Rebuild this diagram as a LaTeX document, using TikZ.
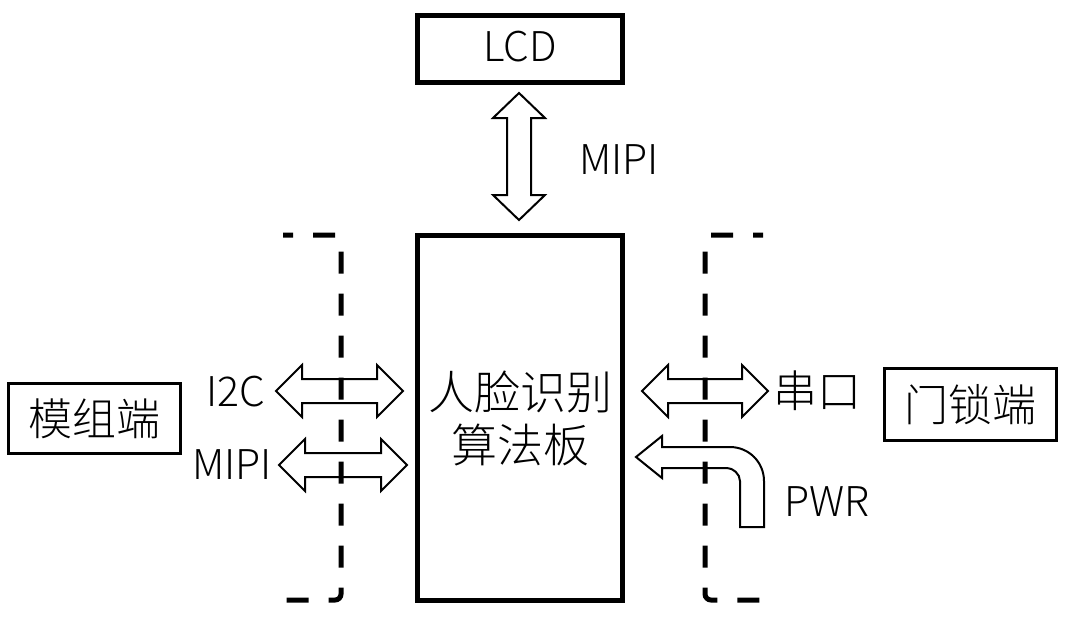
\documentclass[tikz,border=0pt]{standalone}
\usepackage{fontspec}
\setmainfont{Noto Sans CJK SC}[UprightFont={* Light}]
\usetikzlibrary{calc}
\tikzset{
  thickbox/.style={draw=black, line width=5pt, fill=white, inner sep=0pt},
  thinbox/.style={draw=black, line width=3pt, fill=white, inner sep=0pt},
  barrow/.style={draw=black, line width=2pt, fill=white, line join=miter},
  bracket/.style={draw=black, line width=5pt, dash pattern=on 22pt off 20pt, dash phase=12pt, rounded corners=6pt},
  lbl/.style={inner sep=0pt, font=\fontsize{41}{48}\selectfont},
  cjklbl/.style={inner sep=0pt, font=\fontsize{44}{52}\selectfont},
}
\newcommand\hdblarrow[3]{% y, xleft, xright
  \draw[barrow] (#2,#1) -- (#2+26,#1-26) -- (#2+26,#1-12) -- (#3-26,#1-12) -- (#3-26,#1-26)
    -- (#3,#1) -- (#3-26,#1+26) -- (#3-26,#1+12) -- (#2+26,#1+12) -- (#2+26,#1+26) -- cycle;}
\begin{document}
\begin{tikzpicture}[x=1pt,y=-1pt]
\useasboundingbox (0,0) rectangle (1072,633);
% boxes
\node[thickbox, minimum width=205pt, minimum height=67pt] (lcd) at (520,49) {};
\node[lbl] (lcdt) at (520,47) {LCD};
\node[thickbox, minimum width=205pt, minimum height=365pt, align=center,
      font=\fontsize{46}{53}\selectfont] (main) at (520,418) {人脸识别\\算法板};
\node[thinbox, minimum width=172pt, minimum height=70pt, font=\fontsize{44}{52}\selectfont] (mod) at (94.5,418.5) {模组端};
\node[thinbox, minimum width=172pt, minimum height=72pt, font=\fontsize{44}{52}\selectfont] (lock) at (970.5,404.5) {门锁端};
% vertical MIPI arrow
\draw[barrow] (519,93) -- (545,118) -- (531,118) -- (531,195) -- (545,195) -- (519,220)
  -- (493,195) -- (507,195) -- (507,118) -- (493,118) -- cycle;
\node[lbl] (mipitop) at (619,160) {MIPI};
% left arrows
\hdblarrow{391}{276}{403}
\hdblarrow{465}{279}{407}
\node[lbl] (i2c) at (236,392) {I2C};
\node[lbl] (mipil) at (232,465) {MIPI};
% right arrows
\hdblarrow{391}{642}{768}
\node[cjklbl] (uart) at (817,391) {串口};
% PWR bent arrow
\draw[barrow] (636,457) -- (662,436) -- (662,447) -- (730,447)
  .. controls (748.8,447) and (764,462.2) .. (764,481) -- (764,527) -- (740,527) -- (740,481)
  .. controls (740,473.8) and (732.8,468) .. (727,468) -- (662,468) -- (662,478) -- cycle;
\node[lbl] (pwr) at (827,502) {PWR};
% dashed brackets
\coordinate (lt1) at (283,235); \coordinate (lt2) at (341,235);
\coordinate (lb2) at (341,600); \coordinate (lb1) at (283,600);
\draw[bracket] (lt1) -- (lt2) -- (lb2) -- (lb1);
\coordinate (rt1) at (763,235); \coordinate (rt2) at (705,235);
\coordinate (rb2) at (705,600); \coordinate (rb1) at (763,600);
\draw[bracket] (rt1) -- (rt2) -- (rb2) -- (rb1);
\end{tikzpicture}
\end{document}
